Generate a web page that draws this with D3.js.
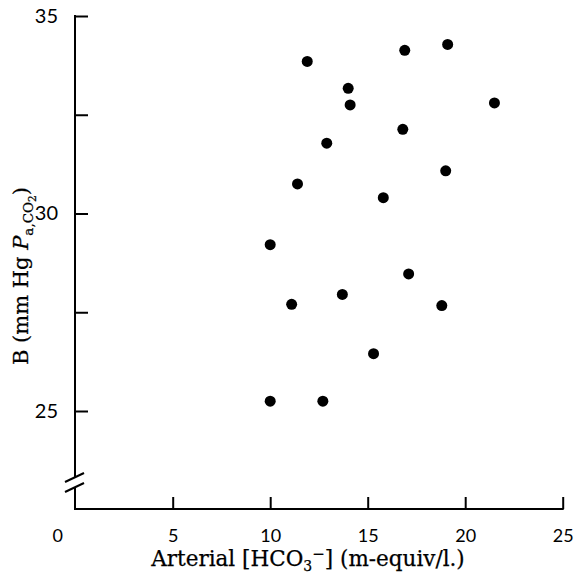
<!DOCTYPE html>
<html>
<head>
<meta charset="utf-8">
<script src="https://cdn.jsdelivr.net/npm/d3@7"></script>
<style>
  body { margin: 0; background: #fff; }
  svg { display: block; }
</style>
</head>
<body>
<svg id="chart" width="578" height="581"></svg>
<script>
// arterial bicarbonate (m-equiv/l.)
const hco3 = [11.9, 16.9, 19.1, 14.0, 14.1, 21.5, 16.8, 12.9, 11.4, 19.0,
  15.8, 10.0, 17.1, 13.7, 11.1, 18.8, 15.3, 10.0, 12.7];
// B (mm Hg Pa,CO2)
const pco2 = [33.85, 34.13, 34.28, 33.17, 32.75, 32.8, 32.13, 31.78, 30.75, 31.08,
  30.4, 29.21, 28.47, 27.95, 27.7, 27.67, 26.45, 25.25, 25.25];

const xTicks = [0, 5, 10, 15, 20, 25];
const yTicks = [25, 27.5, 30, 32.5, 35];
const yLabels = [25, 30, 35];

const svgSelection = d3.select("#chart");

const axisLeftX = 75;
const axisBottomY = 509;

const xScale = d3.scaleLinear().domain([0, 25]).range([75.2, 562.7]);
const yScale = d3.scaleLinear().domain([25, 35]).range([411, 16]);

const sansFont = "Lato, 'Open Sans', sans-serif";
const serifFont = "'DejaVu Serif', 'Liberation Serif', serif";

// y axis (ticks point inward)
const yAxis = d3.axisLeft(yScale)
  .tickValues(yTicks)
  .tickSize(-13)
  .tickPadding(17)
  .tickFormat((d) => (yLabels.includes(d) ? d : ""));

const gy = svgSelection.append("g")
  .attr("transform", `translate(${axisLeftX},0)`)
  .call(yAxis);
gy.select(".domain").remove();
gy.selectAll("line").attr("stroke", "#000").attr("stroke-width", 2);
gy.selectAll("text")
  .attr("font-family", sansFont)
  .attr("font-size", 20)
  .attr("fill", "#000");

// x axis
const xAxis = d3.axisBottom(xScale)
  .tickValues(xTicks)
  .tickSize(-12)
  .tickPadding(20)
  .tickFormat((d) => d);

const gx = svgSelection.append("g")
  .attr("transform", `translate(0,${axisBottomY})`)
  .call(xAxis);
gx.select(".domain").remove();
gx.selectAll("line").attr("stroke", "#000").attr("stroke-width", 2);
gx.selectAll(".tick").filter((d) => d === 0).select("line").remove();
gx.selectAll("text")
  .attr("font-family", sansFont)
  .attr("font-size", 18)
  .attr("fill", "#000");
gx.selectAll(".tick").filter((d) => d === 0).select("text").attr("x", -18);

// axis lines with the break on y
const lineStyle = (sel) => sel.attr("stroke", "#000").attr("stroke-width", 2).attr("fill", "none");

svgSelection.append("line")
  .attr("x1", axisLeftX).attr("x2", axisLeftX)
  .attr("y1", yScale(35) - 1).attr("y2", 477)
  .call(lineStyle);
svgSelection.append("line")
  .attr("x1", axisLeftX).attr("x2", axisLeftX)
  .attr("y1", 487).attr("y2", axisBottomY + 1)
  .call(lineStyle);
svgSelection.append("line")
  .attr("x1", axisLeftX - 1).attr("x2", xScale(25) + 1)
  .attr("y1", axisBottomY).attr("y2", axisBottomY)
  .call(lineStyle);
// break slashes
[0, 10].forEach((off) => {
  svgSelection.append("line")
    .attr("x1", 65).attr("y1", 482 + off)
    .attr("x2", 84).attr("y2", 473 + off)
    .call(lineStyle);
});

// points
svgSelection.selectAll(".pt")
  .data(hco3)
  .enter()
  .append("circle")
  .attr("class", "pt")
  .attr("cx", (d) => xScale(d))
  .attr("cy", (d, i) => yScale(pco2[i]))
  .attr("r", 5.5)
  .attr("fill", "#000");

// x title
const xt = svgSelection.append("text")
  .attr("x", 308)
  .attr("y", 566)
  .attr("text-anchor", "middle")
  .attr("font-family", serifFont)
  .attr("font-size", 21.5)
  .attr("fill", "#000")
  .attr("stroke", "#000")
  .attr("stroke-width", 0.25);
xt.append("tspan").text("Arterial [HCO");
xt.append("tspan").attr("font-size", 14).attr("dy", 5).text("3");
xt.append("tspan").attr("font-size", 15).attr("dy", -12).text("−");
xt.append("tspan").attr("dy", 7).text("] (m-equiv/l.)");

// y title
const yt = svgSelection.append("text")
  .attr("transform", "translate(28,276) rotate(-90)")
  .attr("text-anchor", "middle")
  .attr("font-family", serifFont)
  .attr("font-size", 21)
  .attr("fill", "#000")
  .attr("stroke", "#000")
  .attr("stroke-width", 0.25);
yt.append("tspan").text("B (mm Hg ");
yt.append("tspan").attr("font-style", "italic").text("P");
yt.append("tspan").attr("font-size", 13.5).attr("dy", 5).text("a,CO");
yt.append("tspan").attr("font-size", 10.5).attr("dy", 3).text("2");
yt.append("tspan").attr("dy", -8).text(")");
</script>
</body>
</html>
